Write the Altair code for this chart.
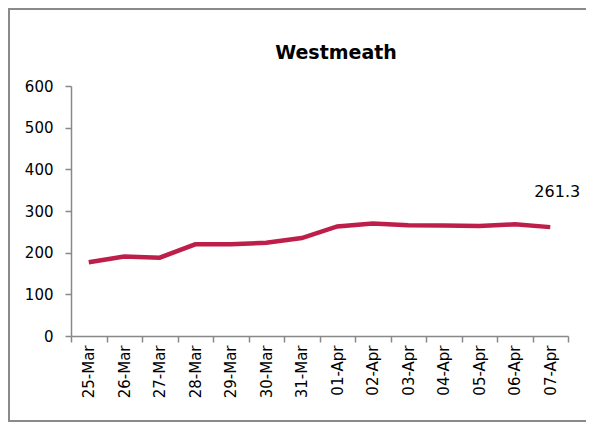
import altair as alt
import pandas as pd

dates = ["25-Mar", "26-Mar", "27-Mar", "28-Mar", "29-Mar", "30-Mar", "31-Mar",
         "01-Apr", "02-Apr", "03-Apr", "04-Apr", "05-Apr", "06-Apr", "07-Apr"]
values = [177, 191, 188, 220, 220, 224, 235, 263, 270, 266, 265, 264, 268, 261.3]
label_text = ["", "", "", "", "", "", "", "", "", "", "", "", "", "261.3"]
title_text = "Westmeath"

df = pd.DataFrame({"date": dates, "value": values, "label": label_text})

FONT = "DejaVu Sans"
COLOR = "#BE1E4A"

x_axis = alt.Axis(labelAngle=-90, tickBand="extent", labelFontSize=15,
                  labelFont=FONT, labelColor="#000", domainColor="#888",
                  tickColor="#888", tickSize=6, labelPadding=3,
                  domainWidth=1.5, tickWidth=1.5)
y_axis = alt.Axis(values=[0, 100, 200, 300, 400, 500, 600], grid=False,
                  labelFontSize=15, labelFont=FONT, labelColor="#000",
                  domainColor="#888", tickColor="#888", tickSize=6,
                  labelPadding=12, domainWidth=1.5, tickWidth=1.5)
x_scale = alt.Scale(type="band", paddingInner=0, paddingOuter=0)

base = alt.Chart(df)

line = base.mark_line(color=COLOR, strokeWidth=4.5).encode(
    x=alt.X("date:N", sort=dates, title=None, scale=x_scale, axis=x_axis,
            bandPosition=0.5),
    y=alt.Y("value:Q", title=None, scale=alt.Scale(domain=[0, 600]), axis=y_axis),
)

label = base.transform_filter(alt.datum.label != "").mark_text(
    font=FONT, fontSize=16, color="#000", dx=7, dy=-35
).encode(
    x=alt.X("date:N", sort=dates, bandPosition=0.5),
    y="value:Q",
    text="label:N",
)

title = alt.Chart(pd.DataFrame({"t": [title_text]})).mark_text(
    font=FONT, fontSize=19, fontWeight="bold", color="#000", baseline="middle"
).encode(
    x=alt.value(265), y=alt.value(-33), text="t:N"
)

border = alt.Chart(pd.DataFrame({"a": [0]})).mark_rect(
    fill=None, stroke="#8a8a8a", strokeWidth=2
).encode(
    x=alt.value(-62), x2=alt.value(600), y=alt.value(-77), y2=alt.value(335)
)

chart = alt.layer(border, line, label, title).properties(
    width=497, height=250,
    autosize=alt.AutoSizeParams(type="none"),
    padding={"left": 63, "top": 78, "right": 18, "bottom": 92},
).configure_view(stroke=None)

chart.save("out.html", embed_options={"renderer": "svg", "actions": False})
